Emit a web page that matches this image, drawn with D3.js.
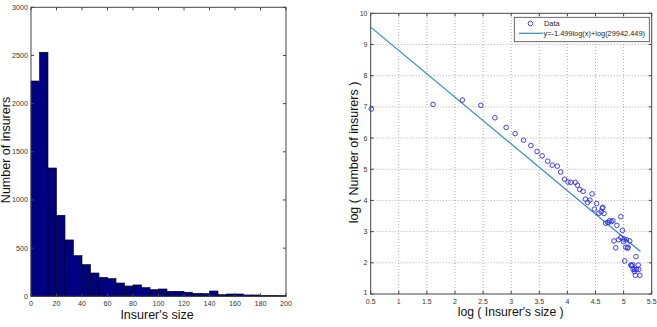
<!DOCTYPE html>
<html><head><meta charset="utf-8">
<script src="https://cdn.jsdelivr.net/npm/d3@7"></script>
<style>
html,body{margin:0;padding:0;background:#fff;}
svg{display:block;font-family:"Liberation Sans",Arial,sans-serif;}
</style></head>
<body>
<svg id="c" width="657" height="327"></svg>
<script>
// ---- Data ----
// Histogram: 30 bins over [0, 200]
const histDomain = [0, 200];
const histCounts = [2235, 2533, 1332, 841, 585, 422, 329, 242, 197, 183,
                    138, 107, 118, 90, 69, 76, 52, 52, 42, 31,
                    28, 55, 17, 24, 24, 14, 14, 10, 10, 7];
const histXTicks = [0, 20, 40, 60, 80, 100, 120, 140, 160, 180, 200];
const histYTicks = [0, 500, 1000, 1500, 2000, 2500, 3000];

// Log-log scatter
const logSize = [0.51, 1.61, 2.13, 2.46, 2.71, 2.91, 3.07, 3.22, 3.35, 3.46,
                 3.55, 3.65, 3.73, 3.82, 3.88, 3.95, 4.01, 4.06, 4.14, 4.18,
                 4.22, 4.28, 4.32, 4.36, 4.40, 4.44, 4.48, 4.52, 4.56, 4.60,
                 4.63, 4.65, 4.68, 4.72, 4.75, 4.78, 4.81, 4.83, 4.86, 4.88,
                 4.91, 4.95, 4.95, 4.98, 5.00, 5.02, 5.04, 5.05, 5.08, 5.11,
                 5.13, 5.16, 5.17, 5.20, 5.22, 5.21, 5.23, 5.26, 5.27, 5.29,
                 4.62, 5.01, 5.07, 5.14, 5.19];
const logCount = [6.93, 7.08, 7.22, 7.05, 6.65, 6.34, 6.14, 5.93, 5.76, 5.57,
                  5.43, 5.26, 5.13, 5.10, 4.91, 4.68, 4.59, 4.58, 4.58, 4.49,
                  4.35, 4.29, 4.04, 3.94, 4.01, 4.21, 3.72, 3.90, 3.59, 3.64,
                  3.78, 3.58, 3.27, 3.29, 3.35, 3.32, 3.35, 2.70, 2.48, 3.20,
                  2.74, 3.48, 2.81, 3.04, 2.68, 2.06, 2.50, 2.74, 2.50, 2.70,
                  1.93, 1.93, 1.79, 1.79, 2.20, 1.60, 1.79, 1.93, 1.79, 1.60,
                  3.75, 2.76, 2.47, 1.91, 1.72];
const fitSlope = -1.499;
const fitConst = 29942.449;
const fitRange = [0.5, 5.3];
const logXTicks = [0.5, 1, 1.5, 2, 2.5, 3, 3.5, 4, 4.5, 5, 5.5];
const logYTicks = [1, 2, 3, 4, 5, 6, 7, 8, 9, 10];
const legendLabels = ["Data", "y=-1.499log(x)+log(29942.449)"];

const svg = d3.select("#c");
const axisColor = "#444";

function boxTicks(g, x, y, xt, yt, L) {
  const [x0, x1] = x.range(), [y0, y1] = y.range();
  xt.forEach(v => {
    g.append("line").attr("x1", x(v)).attr("x2", x(v)).attr("y1", y0).attr("y2", y0 - L).attr("stroke", axisColor);
    g.append("line").attr("x1", x(v)).attr("x2", x(v)).attr("y1", y1).attr("y2", y1 + L).attr("stroke", axisColor);
  });
  yt.forEach(v => {
    g.append("line").attr("x1", x0).attr("x2", x0 + L).attr("y1", y(v)).attr("y2", y(v)).attr("stroke", axisColor);
    g.append("line").attr("x1", x1).attr("x2", x1 - L).attr("y1", y(v)).attr("y2", y(v)).attr("stroke", axisColor);
  });
  g.append("rect").attr("x", x0).attr("y", y1).attr("width", x1 - x0).attr("height", y0 - y1)
    .attr("fill", "none").attr("stroke", axisColor).attr("stroke-width", 1);
}

// ---- Left: histogram ----
{
  const x = d3.scaleLinear().domain(histDomain).range([31, 286]);
  const y = d3.scaleLinear().domain([0, 3000]).range([296.3, 7.3]);
  const g = svg.append("g");
  const bw = (histDomain[1] - histDomain[0]) / histCounts.length;
  g.selectAll("rect.bar").data(histCounts).join("rect").attr("class", "bar")
    .attr("x", (d, i) => x(histDomain[0] + i * bw))
    .attr("width", (d, i) => x(histDomain[0] + (i + 1) * bw) - x(histDomain[0] + i * bw))
    .attr("y", d => y(d)).attr("height", d => y(0) - y(d))
    .attr("fill", "#000080").attr("stroke", "#000").attr("stroke-width", 0.6);
  boxTicks(g, x, y, histXTicks, histYTicks, 3);
  g.selectAll("text.xt").data(histXTicks).join("text").attr("class", "xt")
    .attr("x", d => x(d)).attr("y", 306).attr("text-anchor", "middle")
    .attr("font-size", 7.2).attr("fill", "#333").text(d => d);
  g.selectAll("text.yt").data(histYTicks).join("text").attr("class", "yt")
    .attr("x", 28).attr("y", d => y(d) + 2.5).attr("text-anchor", "end")
    .attr("font-size", 7.2).attr("fill", "#333").text(d => d);
  g.append("text").attr("x", 157).attr("y", 319).attr("text-anchor", "middle")
    .attr("font-size", 12.5).attr("fill", "#111").text("Insurer's size");
  g.append("text").attr("transform", "translate(9.8,150) rotate(-90)").attr("text-anchor", "middle")
    .attr("font-size", 12.5).attr("fill", "#111").text("Number of insurers");
}

// ---- Right: log-log ----
{
  const x = d3.scaleLinear().domain([0.5, 5.5]).range([370.7, 651.7]);
  const y = d3.scaleLinear().domain([1, 10]).range([294, 13.3]);
  const g = svg.append("g");
  logXTicks.slice(1, -1).forEach(v => g.append("line").attr("x1", x(v)).attr("x2", x(v))
    .attr("y1", y(1)).attr("y2", y(10)).attr("stroke", "#888").attr("stroke-width", 0.7).attr("stroke-dasharray", "1,2"));
  logYTicks.slice(1, -1).forEach(v => g.append("line").attr("x1", x(0.5)).attr("x2", x(5.5))
    .attr("y1", y(v)).attr("y2", y(v)).attr("stroke", "#888").attr("stroke-width", 0.7).attr("stroke-dasharray", "1,2"));
  boxTicks(g, x, y, logXTicks, logYTicks, 3);
  const fit = v => fitSlope * v + Math.log(fitConst);
  g.append("path").datum(fitRange)
    .attr("d", d3.line().x(v => x(v)).y(v => y(fit(v))))
    .attr("stroke", "#2a8cc0").attr("stroke-width", 1.2).attr("fill", "none");
  g.selectAll("circle").data(logSize.map((v, i) => [v, logCount[i]])).join("circle")
    .attr("cx", d => x(d[0])).attr("cy", d => y(d[1])).attr("r", 2.3)
    .attr("fill", "none").attr("stroke", "#2a2aee").attr("stroke-width", 0.9);
  g.selectAll("text.xt").data(logXTicks).join("text").attr("class", "xt")
    .attr("x", d => x(d)).attr("y", 303.5).attr("text-anchor", "middle")
    .attr("font-size", 7).attr("fill", "#333").text(d => d);
  g.selectAll("text.yt").data(logYTicks).join("text").attr("class", "yt")
    .attr("x", 367.5).attr("y", (d, i) => y(d) + (i === 0 ? 1 : 2.5)).attr("text-anchor", "end")
    .attr("font-size", 7).attr("fill", "#333").text(d => d);
  g.append("text").attr("x", 510.7).attr("y", 315.5).attr("text-anchor", "middle")
    .attr("font-size", 12.2).attr("fill", "#111").text("log ( Insurer's size )");
  g.append("text").attr("transform", "translate(358,152.5) rotate(-90)").attr("text-anchor", "middle")
    .attr("font-size", 12.5).attr("fill", "#111").text("log ( Number of insurers )");
  const lg = g.append("g");
  lg.append("rect").attr("x", 514.3).attr("y", 17.3).attr("width", 135).attr("height", 24.4)
    .attr("fill", "#fff").attr("stroke", axisColor).attr("stroke-width", 0.8);
  lg.append("circle").attr("cx", 530.5).attr("cy", 23.5).attr("r", 2.3)
    .attr("fill", "none").attr("stroke", "#2a2aee").attr("stroke-width", 0.9);
  lg.append("line").attr("x1", 519).attr("x2", 543).attr("y1", 33.3).attr("y2", 33.3)
    .attr("stroke", "#2a8cc0").attr("stroke-width", 1.2);
  lg.append("text").attr("x", 544).attr("y", 26).attr("font-size", 7.4).attr("fill", "#222").text(legendLabels[0]);
  lg.append("text").attr("x", 543.5).attr("y", 36).attr("font-size", 7.4).attr("fill", "#222").text(legendLabels[1]);
}
</script>
</body></html>
